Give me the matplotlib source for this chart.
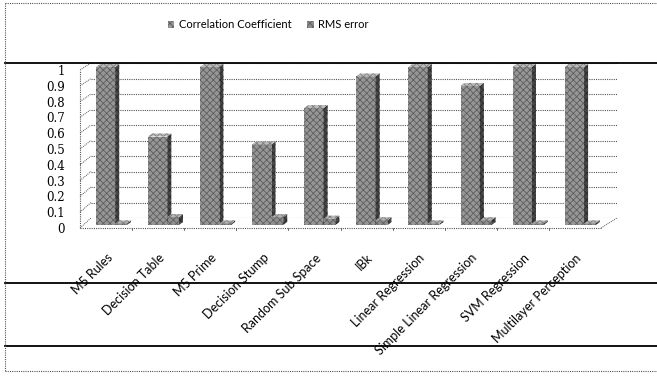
import numpy as np
import matplotlib.pyplot as plt
from matplotlib.patches import Polygon, Patch
from matplotlib.lines import Line2D

models = ['M5 Rules', 'Decision Table', 'M5 Prime', 'Decision Stump',
          'Random Sub Space', 'IBk', 'Linear Regression',
          'Simple Linear Regression', 'SVM Regression', 'Multilayer Perception']
corr = [1.0, 0.56, 1.0, 0.51, 0.74, 0.94, 1.0, 0.88, 1.0, 1.0]
rms = [0.01, 0.05, 0.01, 0.05, 0.04, 0.03, 0.01, 0.03, 0.01, 0.01]
yticks = [0, 0.1, 0.2, 0.3, 0.4, 0.5, 0.6, 0.7, 0.8, 0.9, 1]
ytick_labels = ['0', '0.1', '0.2', '0.3', '0.4', '0.5', '0.6', '0.7', '0.8', '0.9', '1']

plt.rcParams['hatch.linewidth'] = 0.6
W, H = 657, 376
fig = plt.figure(figsize=(W / 100, H / 100), dpi=100)


def frac(x0, y_bottom, x1, y_top):
    # pixel box (top-left origin) -> figure fraction rect
    return [x0 / W, 1 - y_bottom / H, (x1 - x0) / W, (y_bottom - y_top) / H]


n = len(models)
xlim = (-0.5, n - 0.5)
dot = (0, (1, 1))

# back wall with the dotted gridlines
back = fig.add_axes(frac(91, 218, 617, 63))
back.set_xlim(xlim)
back.set_ylim(0, 1)
back.axis('off')
for v in yticks:
    back.axhline(v, color='#555555', lw=0.8, ls=dot)

# front frame: tick labels, floor edge, left edge
ax = fig.add_axes(frac(80, 228, 601, 70))
ax.set_xlim(xlim)
ax.set_ylim(0, 1)
ax.patch.set_visible(False)
for s in ax.spines.values():
    s.set_visible(False)
ax.set_yticks(yticks)
ax.set_yticklabels(ytick_labels, family='DejaVu Serif', fontsize=8.5)
ax.tick_params(axis='y', length=0, pad=11)
ax.set_xticks(range(n))
ax.set_xticklabels(models, rotation=45, ha='right', rotation_mode='anchor',
                   family='Lato', fontsize=9)
ax.tick_params(axis='x', length=0, pad=17)
ax.axhline(0, color='#555555', lw=0.8, ls=dot, clip_on=False)
ax.plot([xlim[0], xlim[0]], [0, 1], color='#555555', lw=0.8, ls=dot, clip_on=False)
for b in np.arange(0.5, n - 0.5, 1):
    ax.plot([b, b], [0, -0.015], color='#555555', lw=0.6, clip_on=False)

# diagonal depth lines joining front frame and back wall
to_fig = fig.transFigure.inverted()
for v in yticks:
    p0 = to_fig.transform(ax.transData.transform((xlim[0], v)))
    p1 = to_fig.transform(back.transData.transform((xlim[0], v)))
    fig.add_artist(Line2D([p0[0], p1[0]], [p0[1], p1[1]], color='#555555',
                          lw=0.7, ls=dot, transform=fig.transFigure))
p0 = to_fig.transform(ax.transData.transform((xlim[1], 0)))
p1 = to_fig.transform(back.transData.transform((xlim[1], 0)))
fig.add_artist(Line2D([p0[0], p1[0]], [p0[1], p1[1]], color='#555555',
                      lw=0.7, ls=dot, transform=fig.transFigure))

# bars sit a little behind the front edge
bars = fig.add_axes(frac(80, 225, 601, 67))
bars.set_xlim(xlim)
bars.set_ylim(0, 1)
bars.axis('off')

dx = 4 * (xlim[1] - xlim[0]) / 521
dy = 3 / 158
hatch_col = '#5e5e5e'


def bar3d(a, x, w, h, face, side, top):
    a.bar(x, h, w, color=face, edgecolor=hatch_col, hatch='xxxxx', lw=0,
          clip_on=False, zorder=3)
    r, l = x + w / 2, x - w / 2
    a.add_patch(Polygon([(r, 0), (r + dx, dy), (r + dx, h + dy), (r, h)],
                        closed=True, facecolor=side, edgecolor='#2a2a2a',
                        hatch='xxxxx', lw=0, clip_on=False, zorder=3))
    a.add_patch(Polygon([(l, h), (r, h), (r + dx, h + dy), (l + dx, h + dy)],
                        closed=True, facecolor=top, edgecolor='#7a7a7a',
                        hatch='xxxxx', lw=0, clip_on=False, zorder=3))


for i in range(n):
    bar3d(bars, i - 0.01, 0.37, corr[i], '#969696', '#474747', '#bcbcbc')
    bar3d(bars, i + 0.29, 0.22, rms[i], '#8e8e8e', '#474747', '#b4b4b4')

# legend
handles = [Patch(facecolor='#969696', edgecolor=hatch_col, hatch='xxxxx', lw=0),
           Patch(facecolor='#8e8e8e', edgecolor=hatch_col, hatch='xxxxx', lw=0)]
fig.legend(handles, ['Correlation Coefficient', 'RMS error'], loc='center',
           bbox_to_anchor=(268 / W, 1 - 25 / H), ncol=2, frameon=False,
           handlelength=0.6, handleheight=0.6, handletextpad=0.4,
           columnspacing=1.4, prop={'family': 'Lato', 'size': 8})

# solid separators and dotted outer border
for yp in (63, 283, 346):
    fig.add_artist(Line2D([5 / W, 1], [1 - yp / H] * 2, color='black', lw=1.3,
                          transform=fig.transFigure))
border = dict(color='#555555', lw=0.8, ls=dot, transform=fig.transFigure)
fig.add_artist(Line2D([5 / W, 5 / W], [1 - 3 / H, 1 - 371 / H], **border))
fig.add_artist(Line2D([5 / W, 1], [1 - 3 / H] * 2, **border))
fig.add_artist(Line2D([5 / W, 1], [1 - 371 / H] * 2, **border))

fig.savefig('out.png', dpi=100)
